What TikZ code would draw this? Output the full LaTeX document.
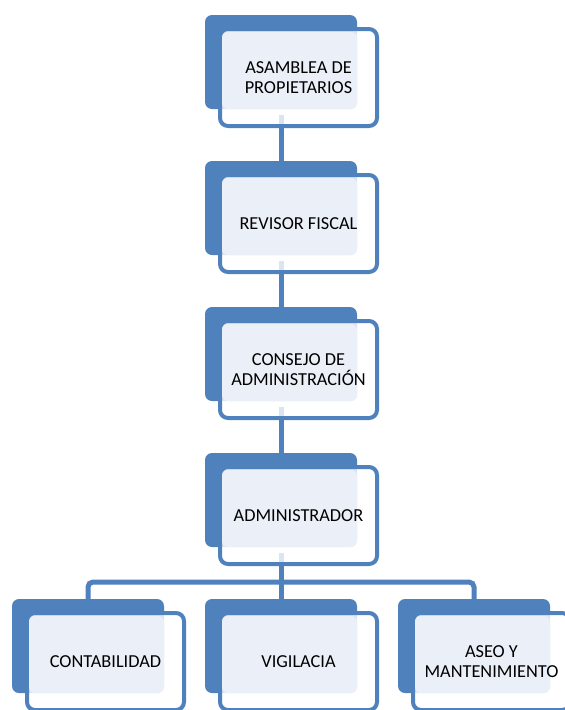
\documentclass[tikz,border=0pt]{standalone}
\usepackage{fontspec}
\setmainfont{Carlito}
\usetikzlibrary{backgrounds}
\definecolor{accentblue}{HTML}{4F81BD}
\definecolor{lightfill}{HTML}{EBF0F8}
\tikzset{
  backbox/.style={rectangle, fill=accentblue, rounded corners=7pt, minimum width=152pt, minimum height=94pt, inner sep=0pt, outer sep=0pt},
  outlinebox/.style={rectangle, draw=accentblue, line width=4pt, fill=white, fill opacity=0.8, rounded corners=8pt, minimum width=157pt, minimum height=97pt, inner sep=0pt, outer sep=0pt},
  lightbox/.style={rectangle, fill=lightfill, rounded corners=6pt, minimum width=135pt, minimum height=77pt, inner sep=0pt, outer sep=0pt},
  unittext/.style={align=center, text=black, inner sep=0pt, font=\fontsize{18.3}{20}\selectfont},
  conn/.style={draw=accentblue, line width=5pt}
}
\newcommand\orgunit[4]{%
  \node[backbox] (#1back) at ({281+#2},{62+#3}) {};
  \node[outlinebox] (#1out) at ({298.5+#2},{77.5+#3}) {};
  \node[lightbox] (#1light) at ({289.5+#2},{70.5+#3}) {};
  \node[unittext] (#1) at ({298.5+#2},{77.5+#3}) {#4};
}
\begin{document}
\begin{tikzpicture}[x={(1pt,0)}, y={(0,-1pt)}]
\useasboundingbox (0,0) rectangle (565,710);
\clip (0,0) rectangle (565,710);
\orgunit{asamblea}{0}{0}{ASAMBLEA DE\\PROPIETARIOS}
\orgunit{revisor}{0}{146}{REVISOR FISCAL}
\orgunit{consejo}{0}{292}{CONSEJO DE\\ADMINISTRACIÓN}
\orgunit{admin}{0}{438}{ADMINISTRADOR}
\orgunit{contab}{-193}{584}{CONTABILIDAD}
\orgunit{vigil}{0}{584}{VIGILACIA}
\orgunit{aseo}{193}{584}{ASEO Y\\MANTENIMIENTO}
\coordinate (busmid) at (281,582);
\begin{scope}[on background layer]
  \draw[conn] ([yshift=-6pt]asambleaback.south) -- (revisorback.north);
  \draw[conn] ([yshift=-6pt]revisorback.south) -- (consejoback.north);
  \draw[conn] ([yshift=-6pt]consejoback.south) -- (adminback.north);
  \draw[conn] ([yshift=-6pt]adminback.south) -- (vigilback.north);
  \draw[conn, rounded corners=5pt] (contabback.north) |- (busmid) -| (aseoback.north);
\end{scope}
\end{tikzpicture}
\end{document}
